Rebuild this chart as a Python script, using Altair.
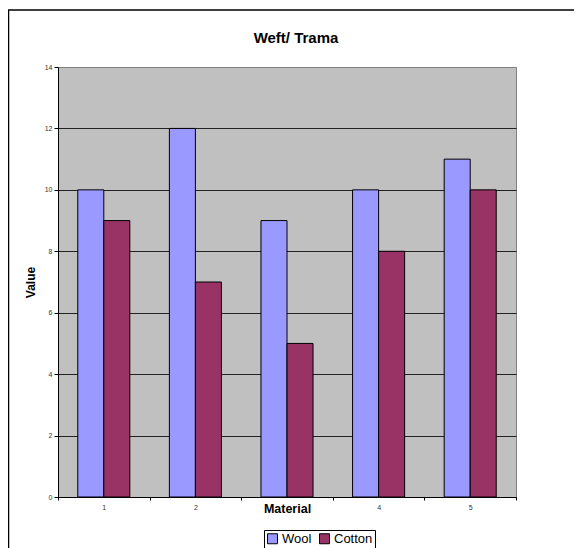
import altair as alt
import pandas as pd

categories = ["1", "2", "3", "4", "5"]
wool = [10, 12, 9, 10, 11]
cotton = [9, 7, 5, 8, 10]
series = ["Wool", "Cotton"]
y_ticks = [0, 2, 4, 6, 8, 10, 12, 14]

rows = []
for c, w, co in zip(categories, wool, cotton):
    rows.append({"Material": c, "Series": "Wool", "Value": w})
    rows.append({"Material": c, "Series": "Cotton", "Value": co})
df = pd.DataFrame(rows)

FONT = "Liberation Sans"

bars = alt.Chart(df).mark_bar(stroke="black", strokeWidth=1).encode(
    x=alt.X("Material:N", sort=categories,
            scale=alt.Scale(paddingInner=0, paddingOuter=0),
            axis=alt.Axis(title="Material", labelAngle=0, tickBand="extent",
                          labelFontSize=7, labelColor="#333333", labelFont=FONT,
                          labelPadding=3, tickSize=3, tickColor="black",
                          domainColor="black", domainWidth=1,
                          labelExpr="datum.label == '3' ? '' : datum.label",
                          titleFont=FONT, titleFontSize=12.5, titleFontWeight="bold",
                          titleColor="black", titleBaseline="alphabetic", titleY=15,
                          grid=False)),
    xOffset=alt.XOffset("Series:N", sort=series,
                        scale=alt.Scale(paddingOuter=0.76, paddingInner=0)),
    y=alt.Y("Value:Q", scale=alt.Scale(domain=[0, 14], nice=False),
            axis=alt.Axis(title="Value", values=y_ticks, labelFontSize=7,
                          labelColor="#333333", labelFont=FONT, labelPadding=2,
                          tickSize=4, tickColor="black", domainColor="black",
                          grid=True,
                          gridColor=alt.condition("datum.value == 14",
                                                  alt.value("#808080"),
                                                  alt.value("#222222")),
                          gridWidth=1,
                          titleFont=FONT, titleFontSize=12, titleFontWeight="bold",
                          titleColor="black", titleX=-28, titleY=215,
                          titleAngle=270, titleAlign="center", titleBaseline="middle")),
    color=alt.Color("Series:N", sort=series,
                    scale=alt.Scale(domain=series, range=["#9999FF", "#993366"]),
                    legend=alt.Legend(title=None, orient="none", direction="horizontal",
                                      legendX=206, legendY=463,
                                      symbolType="square", symbolSize=100,
                                      symbolStrokeColor="black", symbolStrokeWidth=1,
                                      symbolOpacity=1,
                                      labelFont=FONT, labelFontSize=13, labelColor="black",
                                      labelOffset=3, columnPadding=5,
                                      padding=2, strokeColor="black",
                                      fillColor="white")),
)

one = alt.Data(values=[{"a": 1}])
border_left = alt.Chart(one).mark_rule(color="black", strokeWidth=1.5, clip=False).encode(
    x=alt.value(-49.5), y=alt.value(-57), y2=alt.value(485))
border_top = alt.Chart(one).mark_rule(color="black", strokeWidth=1.5, clip=False).encode(
    x=alt.value(-50), x2=alt.value(520), y=alt.value(-57))

chart = alt.layer(bars, border_left, border_top).properties(
    width=458, height=430,
    title=alt.TitleParams("Weft/ Trama", font=FONT, fontSize=15, fontWeight="bold",
                          color="black", anchor="middle", dx=9, offset=0, dy=49,
                          baseline="alphabetic"),
    autosize=alt.AutoSizeParams(type="none"),
    padding={"left": 50, "top": 59, "right": 58, "bottom": 51},
    background="white",
).configure_view(
    fill="#C0C0C0", stroke="#808080", strokeWidth=1
)

chart.save("out.html", embed_options={"renderer": "svg", "actions": False})
